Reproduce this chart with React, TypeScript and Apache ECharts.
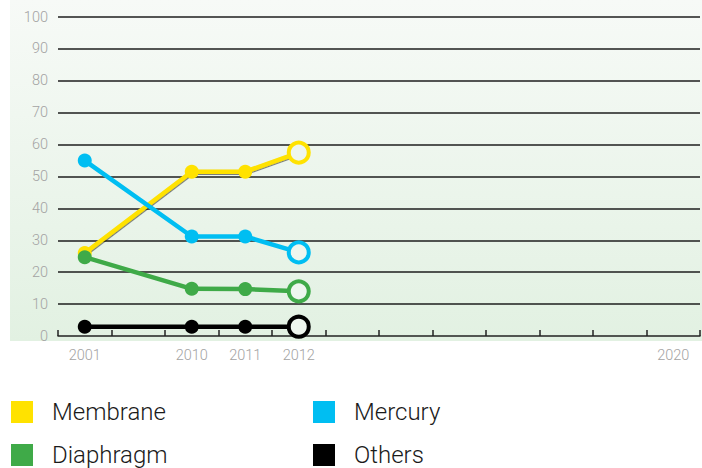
import React, { useEffect, useRef } from "react";
import * as echarts from "echarts";

const categories = ["2001", "", "2010", "2011", "2012", "", "", "", "", "", "", "2020"];
const yTicks = [0, 10, 20, 30, 40, 50, 60, 70, 80, 90, 100];
const membrane = [26, 51.5, 51.5, 57.5];
const mercury = [55, 31.2, 31.2, 26.2];
const diaphragm = [24.7, 14.8, 14.7, 14];
const others = [2.9, 2.9, 2.9, 2.9];
const dataIdx = [0, 2, 3, 4];
const legendNames = ["Membrane", "Mercury", "Diaphragm", "Others"];

const COLORS: Record<string, string> = {
  Membrane: "#ffe200",
  Mercury: "#00bef2",
  Diaphragm: "#3faa48",
  Others: "#000000",
};

function buildData(vals: number[], color: string) {
  return vals.map((v, i) => {
    const item: any = { value: [dataIdx[i], v] };
    if (i === vals.length - 1) {
      item.symbolSize = 20;
      item.itemStyle = { color: "#eef6ee", borderColor: color, borderWidth: 4 };
    }
    return item;
  });
}

function mkSeries(name: string, vals: number[], shadow = false) {
  const color = COLORS[name];
  return {
    name,
    type: "line",
    data: buildData(vals, color),
    symbol: "circle",
    symbolSize: 14,
    lineStyle: {
      color,
      width: 4.5,
      ...(shadow ? { shadowColor: "rgba(0,0,0,0.6)", shadowBlur: 0, shadowOffsetX: 0.8, shadowOffsetY: 0.8 } : {}),
    },
    itemStyle: { color },
    z: 3,
  };
}

export default function App() {
  const ref = useRef<HTMLDivElement>(null);
  useEffect(() => {
    const chart = echarts.init(ref.current!, null, { renderer: "svg" });
    const font = "Roboto, 'Liberation Sans', sans-serif";
    const legendText = {
      fontFamily: font,
      fontWeight: 300,
      fontSize: 24,
      color: "#1a1a1a",
      padding: [0, 0, 0, 14],
    };
    const legendPos: Record<string, [number, number]> = {
      Membrane: [11, 400],
      Mercury: [313, 400],
      Diaphragm: [11, 443],
      Others: [313, 443],
    };
    chart.setOption({
      animation: false,
      backgroundColor: "#ffffff",
      graphic: [
        {
          type: "rect",
          left: 10,
          top: 0,
          z: -10,
          silent: true,
          shape: { width: 692, height: 341 },
          style: {
            fill: new echarts.graphic.LinearGradient(0, 0, 0, 1, [
              { offset: 0, color: "#f7faf7" },
              { offset: 1, color: "#e2f1e2" },
            ]),
          },
        },
      ],
      grid: { left: 58, right: 2, top: 17, bottom: 132, containLabel: false },
      legend: legendNames.map((n) => ({
        data: [n],
        left: legendPos[n][0],
        top: legendPos[n][1],
        icon: "rect",
        itemWidth: 22,
        itemHeight: 22,
        padding: 0,
        textStyle: legendText,
      })),
      xAxis: {
        type: "category",
        data: categories,
        boundaryGap: true,
        offset: 3,
        axisLine: { show: true, lineStyle: { color: "#222", width: 1.5 } },
        axisTick: { show: true, inside: true, length: 6, lineStyle: { color: "#222", width: 1.5 } },
        axisLabel: {
          color: "#a3a3a3",
          fontSize: 14.5,
          fontFamily: font,
          fontWeight: 300,
          margin: 9,
          interval: 0,
        },
        splitLine: { show: false },
      },
      yAxis: {
        type: "value",
        min: 0,
        max: 100,
        interval: 10,
        z: 2,
        axisLine: { show: false },
        axisTick: { show: false },
        axisLabel: {
          color: "#a3a3a3",
          fontSize: 14.5,
          fontFamily: font,
          fontWeight: 300,
          margin: 10,
          formatter: (v: number) => (yTicks.includes(v) ? String(v) : ""),
        },
        splitLine: {
          show: true,
          showMinLine: false,
          lineStyle: {
            color: "#1e1e1e",
            width: 1.6,
          },
        },
      },
      series: [
        mkSeries("Membrane", membrane, true),
        mkSeries("Mercury", mercury),
        mkSeries("Diaphragm", diaphragm),
        mkSeries("Others", others),
      ],
    });
    return () => chart.dispose();
  }, []);
  return <div ref={ref} style={{ width: 702, height: 468, position: "absolute", left: 0, top: 0 }} />;
}
